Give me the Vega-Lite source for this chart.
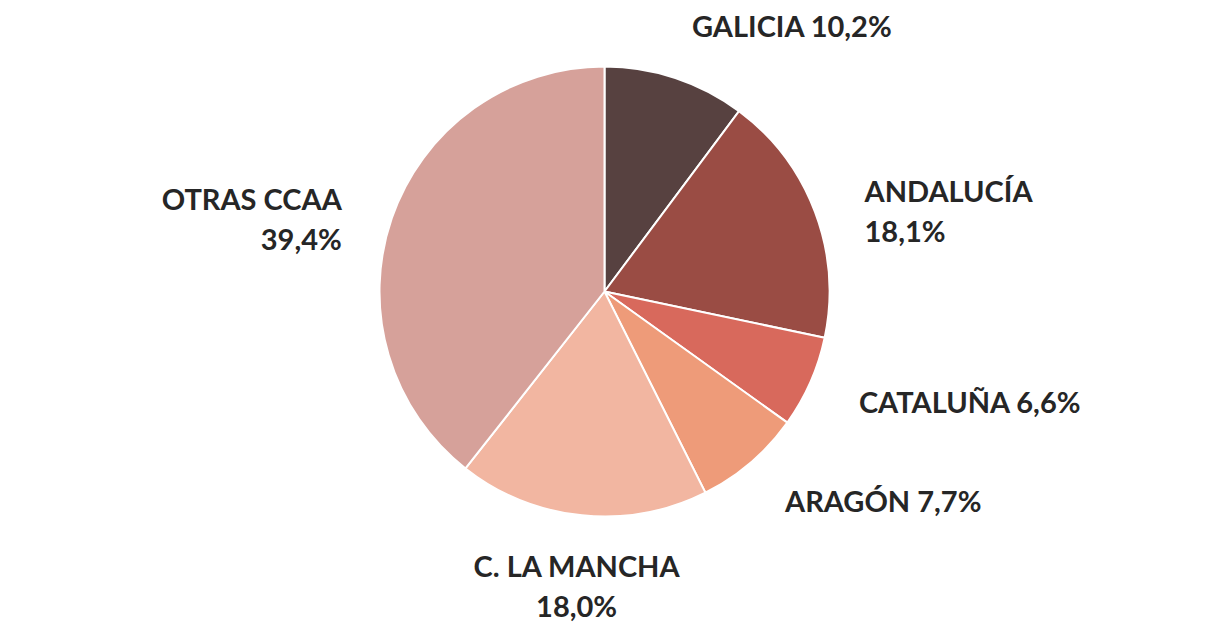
{
  "$schema": "https://vega.github.io/schema/vega-lite/v6.json",
  "autosize": {"type": "fit", "contains": "padding"},
  "width": 1209,
  "height": 634,
  "padding": {"top": 0, "bottom": 36, "left": 0, "right": 0},
  "background": "white",
  "view": {"stroke": null},
  "data": {
    "values": [
      {"region": "GALICIA", "label": "GALICIA 10,2%", "value": 10.2, "orden": 1},
      {"region": "ANDALUCÍA", "label": "ANDALUCÍA\n18,1%", "value": 18.1, "orden": 2},
      {"region": "CATALUÑA", "label": "CATALUÑA 6,6%", "value": 6.6, "orden": 3},
      {"region": "ARAGÓN", "label": "ARAGÓN 7,7%", "value": 7.7, "orden": 4},
      {"region": "C. LA MANCHA", "label": "C. LA MANCHA\n18,0%", "value": 18.0, "orden": 5},
      {"region": "OTRAS CCAA", "label": "OTRAS CCAA\n39,4%", "value": 39.4, "orden": 6}
    ]
  },
  "encoding": {
    "theta": {"field": "value", "type": "quantitative", "stack": true},
    "order": {"field": "orden", "type": "quantitative"}
  },
  "layer": [
    {
      "mark": {"type": "arc", "outerRadius": 225, "stroke": "white", "strokeWidth": 2},
      "encoding": {
        "color": {
          "field": "region",
          "type": "nominal",
          "scale": {
            "domain": ["GALICIA", "ANDALUCÍA", "CATALUÑA", "ARAGÓN", "C. LA MANCHA", "OTRAS CCAA"],
            "range": ["#574140", "#9a4c44", "#d8695c", "#ee9b79", "#f2b6a1", "#d6a19a"]
          },
          "legend": null
        }
      }
    },
    {
      "mark": {
        "type": "text",
        "radius": 278,
        "font": "Lato",
        "fontWeight": "bold",
        "fontSize": 29,
        "lineBreak": "\n",
        "lineHeight": 40,
        "color": "#262626",
        "baseline": "middle",
        "align": {"expr": "((datum.value_start + datum.value_end) / 2 > 45 && (datum.value_start + datum.value_end) / 2 < 58) ? 'center' : ((datum.value_start + datum.value_end) / 2 > 50 ? 'right' : 'left')"}
      },
      "encoding": {
        "text": {"field": "label", "type": "nominal"}
      }
    }
  ]
}
